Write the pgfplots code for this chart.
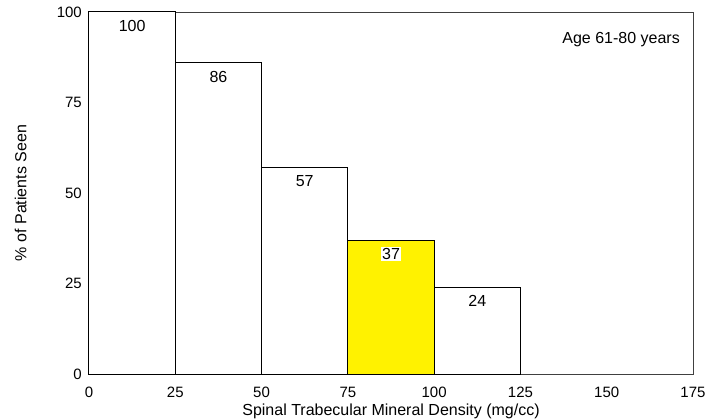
\documentclass[border=0pt]{standalone}
\usepackage{fontspec}
\setmainfont{Liberation Sans}
\usepackage{pgfplots}
\pgfplotsset{compat=1.18}
\begin{document}
\begin{tikzpicture}
\useasboundingbox (-89bp,-46bp) rectangle (634bp,374bp);
\begin{axis}[
  at={(0,0)}, anchor=south west,
  scale only axis, width=604bp, height=362bp,
  xmin=0, xmax=175, ymin=0, ymax=100,
  enlargelimits=false,
  xtick={0,25,...,175}, ytick={0,25,50,75,100},
  major tick length=0pt,
  /pgf/number format/assume math mode=true,
  axis line style={black!75, line width=0.9bp},
  tick label style={font=\fontsize{15bp}{18bp}\selectfont},
  xticklabel style={anchor=north, inner sep=0pt, yshift=-13bp},
  yticklabel style={anchor=east, inner sep=0pt, xshift=-7bp},
  label style={font=\fontsize{16bp}{19bp}\selectfont},
  xlabel={Spinal Trabecular Mineral Density (mg/cc)},
  ylabel={\% of Patients Seen},
  xlabel style={at={(axis description cs:0.5,-0.1146)}, anchor=base},
  ylabel style={at={(axis description cs:-0.1035,0.5)}, anchor=base},
  clip=false,
]
\addplot[ybar interval, fill=white, draw=black, line width=1bp]
  coordinates {(0,100) (25,86) (50,57) (75,37) (100,24) (125,24)};
\addplot[ybar interval, fill=yellow, draw=black, line width=1bp]
  coordinates {(75,37) (100,37)};
\addplot[draw=none, mark=none, nodes near coords, point meta=explicit symbolic,
  every node near coord/.style={anchor=north, inner sep=0pt, yshift=-8bp, text=black,
    font=\fontsize{16bp}{19bp}\selectfont}]
  coordinates {(12.5,100) [100] (37.5,86) [86] (62.5,57) [57] (112.5,24) [24]};
\addplot[draw=none, mark=none, nodes near coords, point meta=explicit symbolic,
  every node near coord/.style={anchor=north, inner sep=1.5bp, yshift=-6.5bp, text=black, fill=white,
    font=\fontsize{16bp}{19bp}\selectfont}]
  coordinates {(87.5,37) [37]};
\node[anchor=east, inner sep=0pt, font=\fontsize{16bp}{19bp}\selectfont]
  at ([xshift=-13bp,yshift=-28bp]axis cs:175,100) {Age 61-80 years};
\end{axis}
\end{tikzpicture}
\end{document}
